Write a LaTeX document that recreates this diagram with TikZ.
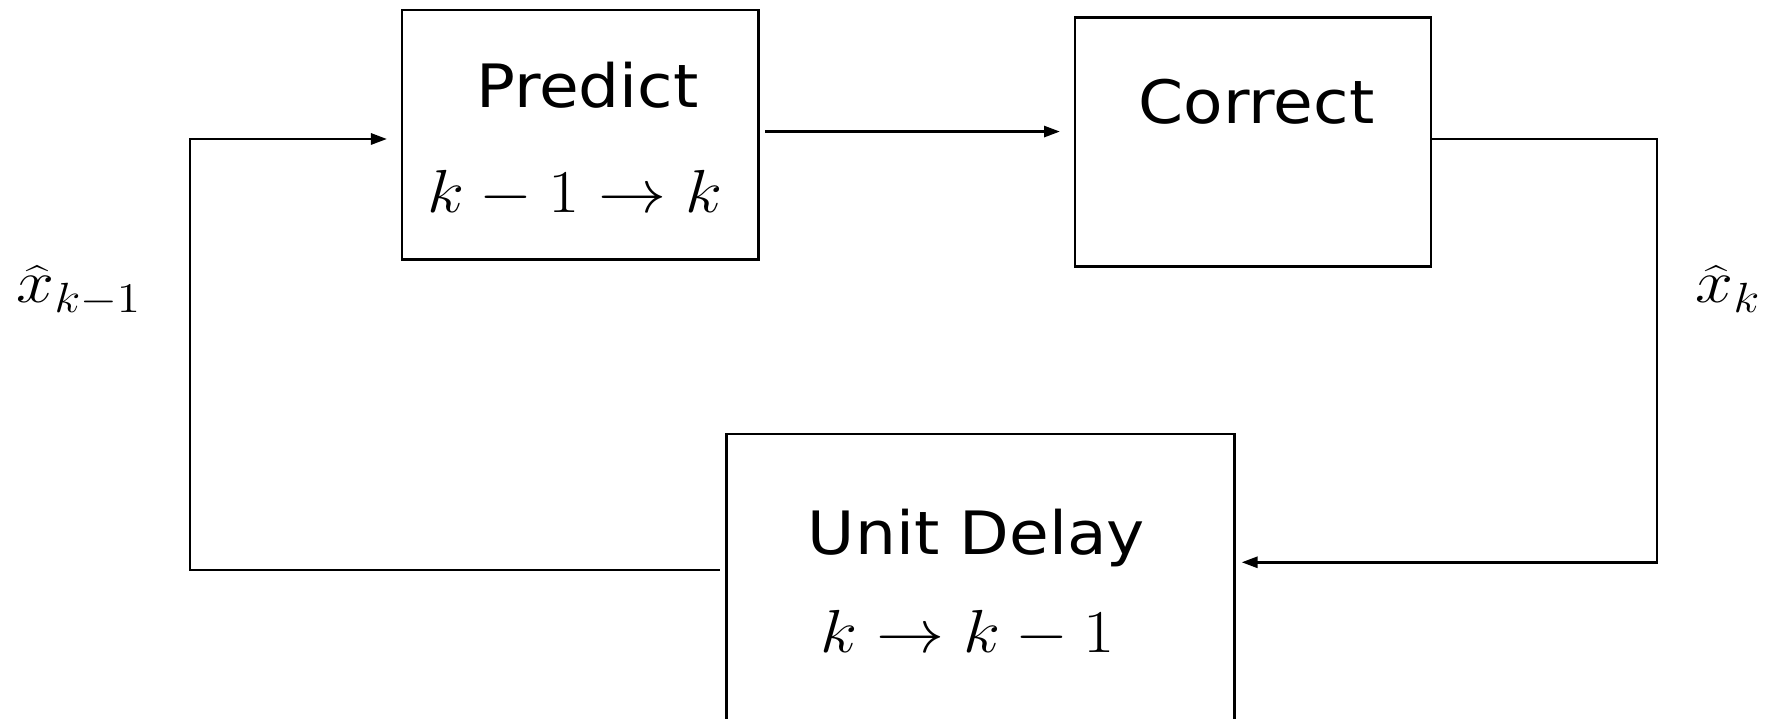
\documentclass[tikz,border=0pt]{standalone}
\usepackage[no-math]{fontspec}
\usepackage{graphicx}
\usetikzlibrary{calc,arrows.meta}
\newfontfamily\blockfont{DejaVu Sans}
% block captions and math are set slightly widened
\newcommand{\btext}[1]{\scalebox{1.08}[1]{\blockfont #1}}
\newcommand{\bmath}[1]{\scalebox{1.12}[1]{$#1$}}
\begin{document}
\begin{tikzpicture}[x=0.01cm,y=-0.01cm,
  block/.style={draw, line width=0.8pt, inner sep=0pt, outer sep=0pt, anchor=north west},
  caption/.style={anchor=base, inner sep=0pt, font=\fontsize{17}{20}\selectfont},
  sig/.style={anchor=base west, inner sep=0pt, font=\fontsize{17}{20}\selectfont},
  wire/.style={line width=0.8pt},
  arr/.style={wire, -{Triangle[length=0.16cm,width=0.11cm]}}]
\path[use as bounding box, clip] (0,0) rectangle (1769,719);

% blocks
\node[block, minimum width=3.56cm, minimum height=2.49cm] (predict) at (402,10) {};
\node[block, minimum width=3.557cm, minimum height=2.494cm] (correct) at (1075,17.3) {};
\node[block, minimum width=5.076cm, minimum height=3.30cm] (delay) at (726.7,434) {};

% block captions
\node[caption] (predictname) at (587.5,108) {\btext{Predict}};
\node[caption] (predictstep) at (575,213) {\bmath{k-1\rightarrow k}};
\node[caption] (correctname) at (1256.5,123.5) {\btext{Correct}};
\node[caption] (delayname) at (976.5,555) {\btext{Unit Delay}};
\node[caption] (delaystep) at (967.5,653) {\bmath{k\rightarrow k-1}};

% signal labels
\node[sig] (xprev) at (16,303) {\bmath{\widehat{x}_{k-1}}};
\node[sig] (xcur) at (1695,303) {\bmath{\widehat{x}_{k}}};

% loop corners
\coordinate (rt) at (1657,139);
\coordinate (rb) at (1657,562.3);
\coordinate (lb) at (190,570);
\coordinate (lt) at (190,139);

% connectors
\draw[arr] ($(predict.east)+(7,-3)$) -- ($(correct.west |- predict.east)+(-15,-3)$);
\draw[arr] (correct.east |- rt) -- (rt) -- (rb) -- ($(delay.east |- rb)+(7,0)$);
\draw[arr] ($(delay.west |- lb)+(-7,0)$) -- (lb) -- (lt) -- ($(predict.west |- lt)+(-15,0)$);
\end{tikzpicture}
\end{document}
